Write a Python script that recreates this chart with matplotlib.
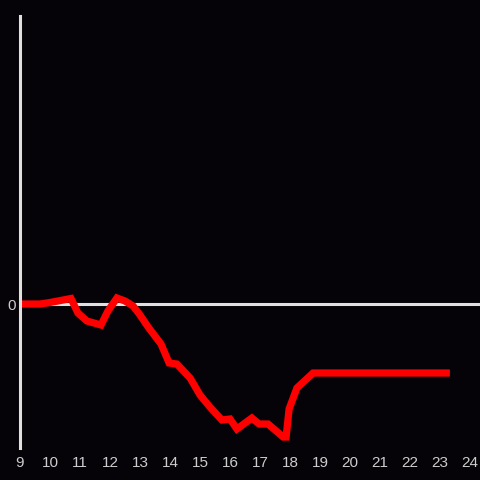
import matplotlib
matplotlib.use("Agg")
import matplotlib.pyplot as plt

hours = [9.0, 9.67, 10.0, 10.7, 10.93, 11.23, 11.7, 11.93, 12.23, 12.5, 12.77, 13.0,
         13.27, 13.7, 13.97, 14.23, 14.67, 15.0, 15.33, 15.73, 16.0, 16.23, 16.73,
         16.97, 17.27, 17.77, 17.87, 17.97, 18.23, 18.77, 23.33]
values = [0.0, 0.0, 0.15, 0.55, -0.9, -1.7, -2.1, -0.7, 0.6, 0.3, -0.2, -1.1,
          -2.3, -4.0, -5.9, -6.0, -7.4, -9.1, -10.3, -11.6, -11.5, -12.5, -11.4,
          -12.0, -12.0, -13.3, -13.3, -10.5, -8.4, -6.9, -6.9]
xticks = list(range(9, 25))
yticks = [0]

bg = "#050307"
fg = "#e0e0e0"

fig = plt.figure(figsize=(4.8, 4.8), dpi=100, facecolor=bg)
ax = fig.add_axes([20/480, 1 - 448/480, 460/480, 432/480], facecolor=bg)

ax.axhline(0, color=fg, linewidth=2.2, zorder=1)
ax.plot(hours, values, color="#ff0000", linewidth=5.2, solid_joinstyle="miter",
        solid_capstyle="butt", zorder=2)

ax.set_xlim(9, 9 + 460/30)
ax.set_ylim(-14.4, 28.8)
ax.set_xticks(xticks)
ax.set_yticks(yticks)
for lab in ax.get_xticklabels() + ax.get_yticklabels():
    lab.set_fontfamily("Liberation Sans")
ax.tick_params(length=0, colors="#cccccc", labelsize=11, pad=6)
ax.tick_params(axis="y", pad=3)

for s in ["top", "right", "bottom"]:
    ax.spines[s].set_visible(False)
ax.spines["left"].set_color(fg)
ax.spines["left"].set_linewidth(2.2)

fig.savefig("out.png", dpi=100, facecolor=bg)
